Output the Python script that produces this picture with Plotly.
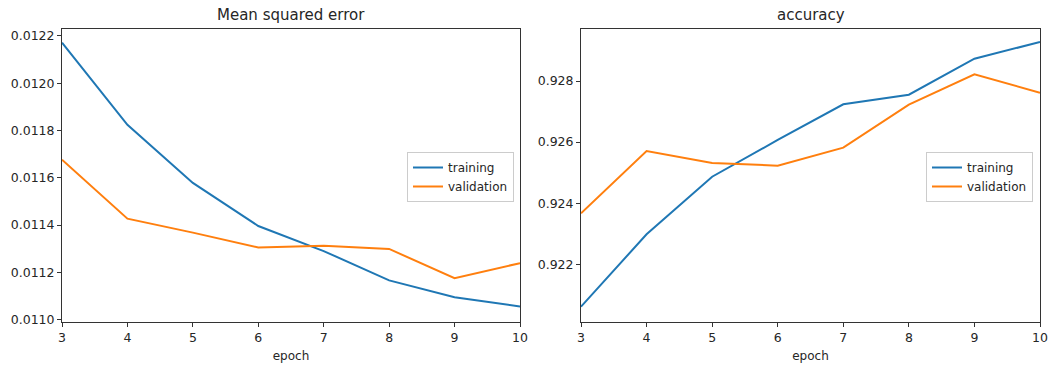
import plotly.graph_objects as go

epochs = [3, 4, 5, 6, 7, 8, 9, 10]
mse_training = [0.012171, 0.011824, 0.011578, 0.011396, 0.011290, 0.011166, 0.011095, 0.011056]
mse_validation = [0.011676, 0.011427, 0.011368, 0.011305, 0.011312, 0.011299, 0.011175, 0.011239]
acc_training = [0.920612, 0.922982, 0.924867, 0.926069, 0.927237, 0.927552, 0.928730, 0.929277]
acc_validation = [0.923669, 0.925709, 0.925316, 0.925228, 0.925817, 0.927224, 0.928220, 0.927617]
mse_ticks = [0.0110, 0.0112, 0.0114, 0.0116, 0.0118, 0.0120, 0.0122]
acc_ticks = [0.922, 0.924, 0.926, 0.928]

BLUE = "#1f77b4"
ORANGE = "#ff7f0e"
FONT = "DejaVu Sans"

fig = go.Figure()
fig.add_trace(go.Scatter(x=epochs, y=mse_training, mode="lines", name="training",
                         line=dict(color=BLUE, width=2), xaxis="x", yaxis="y", legend="legend"))
fig.add_trace(go.Scatter(x=epochs, y=mse_validation, mode="lines", name="validation",
                         line=dict(color=ORANGE, width=2), xaxis="x", yaxis="y", legend="legend"))
fig.add_trace(go.Scatter(x=epochs, y=acc_training, mode="lines", name="training",
                         line=dict(color=BLUE, width=2), xaxis="x2", yaxis="y2", legend="legend2"))
fig.add_trace(go.Scatter(x=epochs, y=acc_validation, mode="lines", name="validation",
                         line=dict(color=ORANGE, width=2), xaxis="x2", yaxis="y2", legend="legend2"))

W, H = 1050, 365
ytop, ybot = 29, 322
ydom = [(H - ybot) / H, (H - ytop) / H]

axis_common = dict(showline=True, mirror=True, linecolor="#333333", linewidth=1,
                   ticks="outside", ticklen=4, tickcolor="#333333", showgrid=False,
                   zeroline=False, automargin=False,
                   tickfont=dict(family=FONT, size=12.5, color="#262626"))

legend_common = dict(bgcolor="rgba(255,255,255,0.8)", bordercolor="#cccccc", borderwidth=1,
                     font=dict(family=FONT, size=12, color="#262626"),
                     xanchor="right", yanchor="top", tracegroupgap=0, itemwidth=30)

fig.update_layout(
    width=W, height=H,
    margin=dict(l=0, r=0, t=0, b=0, autoexpand=False),
    paper_bgcolor="white", plot_bgcolor="white",
    showlegend=True,
    xaxis=dict(domain=[62 / W, 520 / W], range=[3, 10], tickvals=epochs, anchor="y",
               title=dict(text="epoch", font=dict(family=FONT, size=12, color="#262626"), standoff=7),
               **axis_common),
    yaxis=dict(domain=ydom, range=[0.01099, 0.012229], tickvals=mse_ticks, tickformat=".4f",
               anchor="x", **axis_common),
    xaxis2=dict(domain=[581 / W, 1040 / W], range=[3, 10], tickvals=epochs, anchor="y2",
                title=dict(text="epoch", font=dict(family=FONT, size=12, color="#262626"), standoff=7),
                **axis_common),
    yaxis2=dict(domain=ydom, range=[0.920111, 0.929702], tickvals=acc_ticks, tickformat=".3f",
                anchor="x2", **axis_common),
    legend=dict(x=514 / W, y=(H - 152) / H, **legend_common),
    legend2=dict(x=1033 / W, y=(H - 152) / H, **legend_common),
    annotations=[
        dict(text="Mean squared error", x=(62 + 520) / 2 / W, y=(H - 15) / H, xref="paper", yref="paper",
             showarrow=False, font=dict(family=FONT, size=15, color="#262626"),
             xanchor="center", yanchor="middle"),
        dict(text="accuracy", x=(581 + 1040) / 2 / W, y=(H - 15) / H, xref="paper", yref="paper",
             showarrow=False, font=dict(family=FONT, size=15, color="#262626"),
             xanchor="center", yanchor="middle"),
    ],
)

fig.write_html("out.html", config={"displayModeBar": False},
               post_script="document.body.style.margin='0';document.body.style.overflow='hidden';")
